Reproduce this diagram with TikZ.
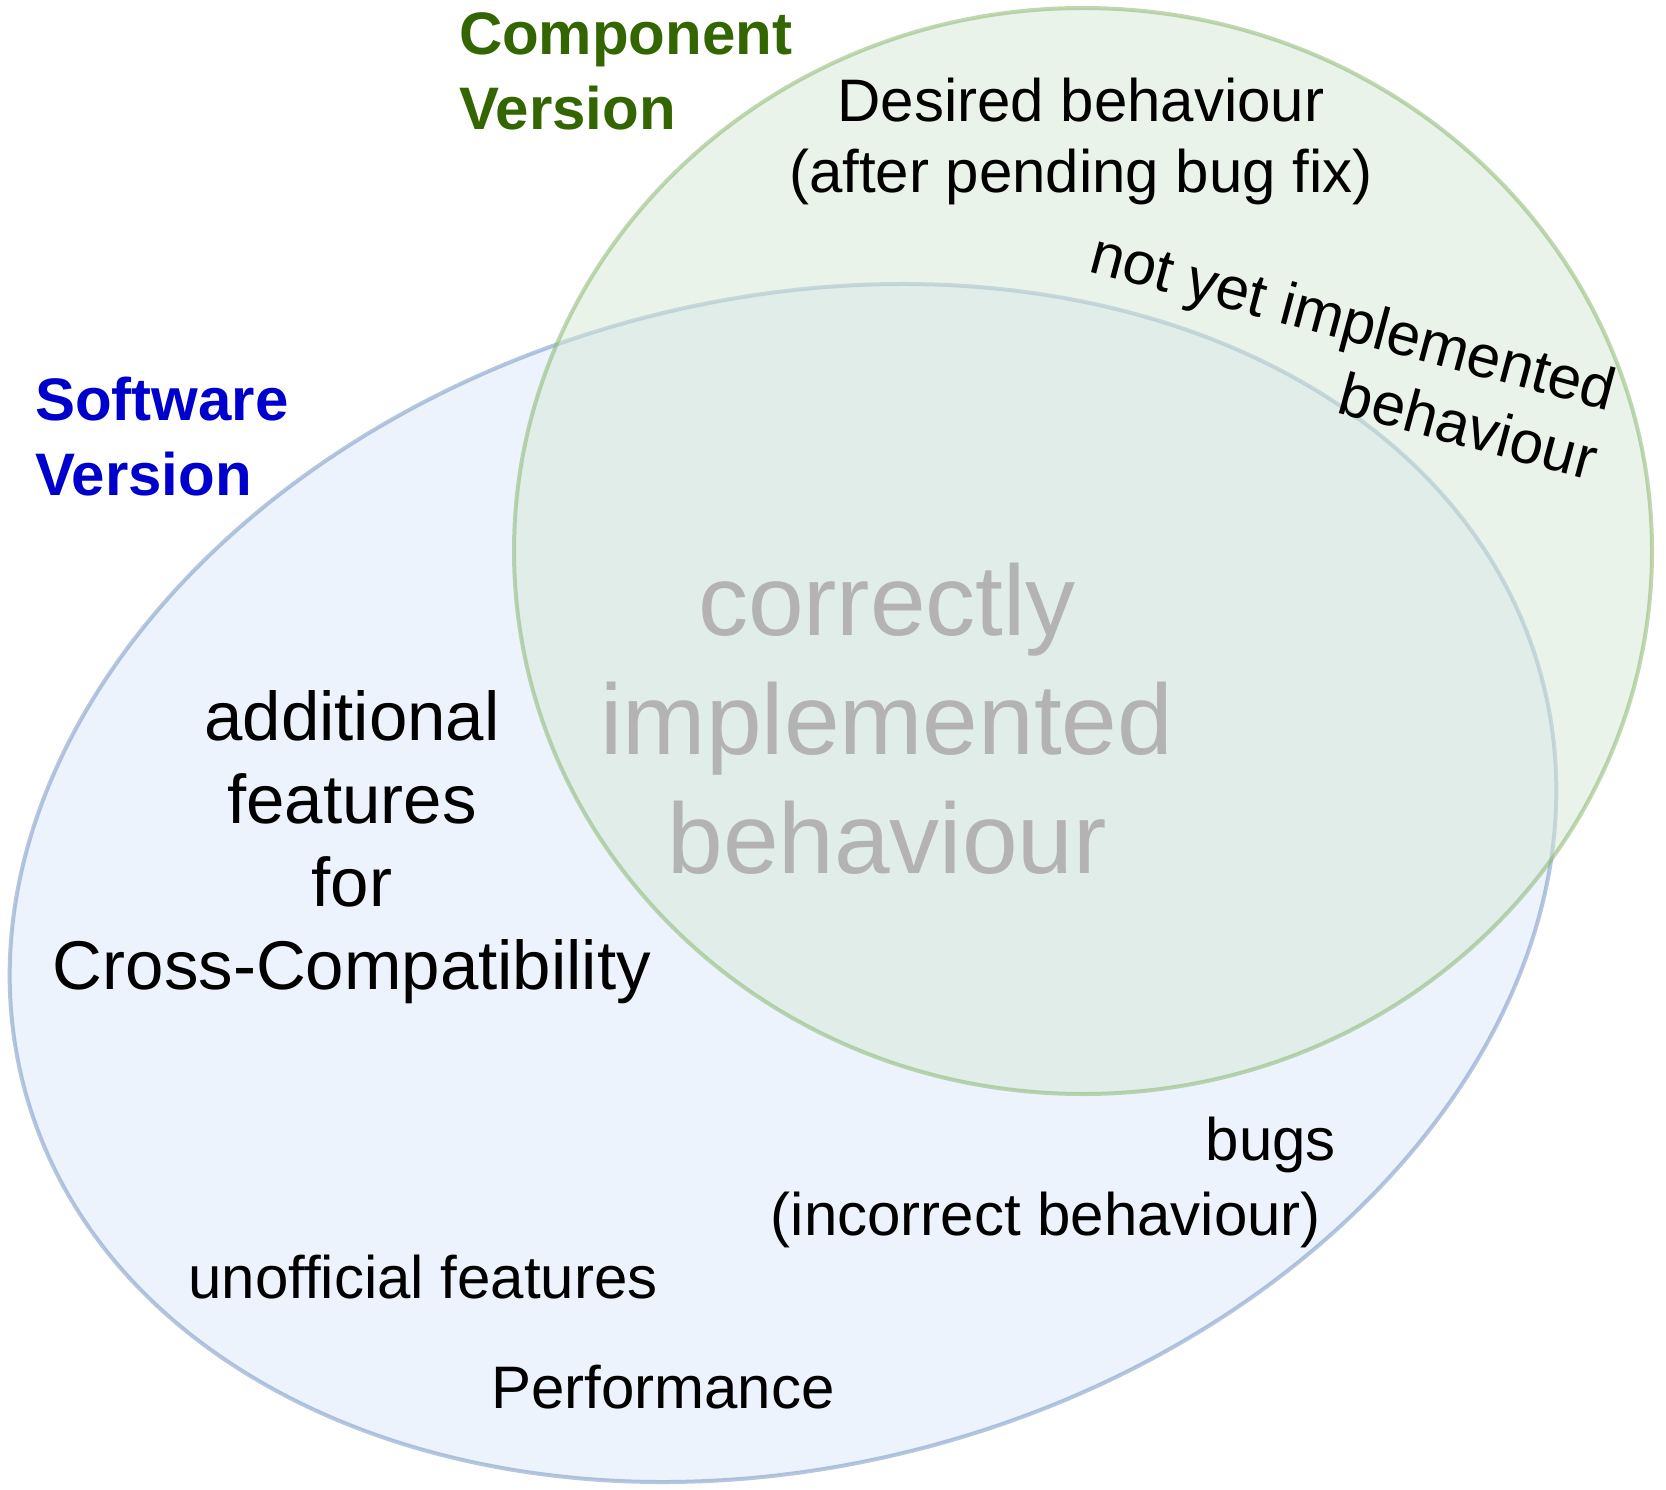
\documentclass[tikz,border=0pt]{standalone}
\usepackage{fontspec}
\setmainfont{Liberation Sans}
\definecolor{bluefill}{HTML}{DAE8FC}
\definecolor{bluedraw}{HTML}{6C8EBF}
\definecolor{greenfill}{HTML}{D5E8D4}
\definecolor{greendraw}{HTML}{82B366}
\definecolor{compgreen}{HTML}{336600}
\definecolor{softblue}{HTML}{0000CC}
\definecolor{midgray}{HTML}{B3B3B3}
\newcommand\fsz[2]{\fontsize{#1bp}{#2bp}\selectfont}
\setlength\tabcolsep{0pt}
\begin{document}
\begin{tikzpicture}[x=1bp,y=1bp,
  txt/.style={inner sep=0pt, outer sep=0pt, text=black},
  setblue/.style={fill=bluefill, draw=bluedraw, line width=4bp, opacity=0.5},
  setgreen/.style={fill=greenfill, draw=greendraw, line width=4bp, opacity=0.5},
  title/.style={txt, anchor=base west, font=\fsz{60}{75}\bfseries}]
\useasboundingbox (0,0) rectangle (1666,-1490);
\fill[white] (0,0) rectangle (1666,-1490);
% sets
\draw[setblue] (783,-883) ellipse [x radius=786, y radius=582, rotate=15.5];
\draw[setgreen] (1083,-551) ellipse [x radius=569, y radius=543];
% titles
\node[title, text=compgreen] (comp) at (459,-55)
  {\begin{tabular}[t]{@{}l@{}}Component\\Version\end{tabular}};
\node[title, text=softblue] (soft) at (35,-420)
  {\begin{tabular}[t]{@{}l@{}}Software\\Version\end{tabular}};
% labels
\node[txt, anchor=base, font=\fsz{60}{71}] (desired) at (1081,-122)
  {\begin{tabular}[t]{@{}c@{}}Desired behaviour\\(after pending bug fix)\end{tabular}};
\node[txt, anchor=base east, rotate=-15, font=\fsz{60}{72}] (notyet) at (1609,-411)
  {\begin{tabular}[t]{@{}r@{}}not yet implemented\\behaviour\end{tabular}};
\node[txt, anchor=base, text=midgray, font=\fsz{100}{119}] (correct) at (887,-635)
  {\begin{tabular}[t]{@{}c@{}}correctly\\implemented\\behaviour\end{tabular}};
\node[txt, anchor=base, font=\fsz{69}{83}] (additional) at (352,-740)
  {\begin{tabular}[t]{@{}c@{}}additional\\features\\for\\Cross-Compatibility\end{tabular}};
\node[txt, anchor=base east, font=\fsz{60}{72}] (bugs) at (1336,-1160) {bugs};
\node[txt, anchor=base east, font=\fsz{60}{72}] (incorrect) at (1321,-1235) {(incorrect behaviour)};
\node[txt, anchor=base, font=\fsz{60}{72}] (unofficial) at (423,-1298) {unofficial features};
\node[txt, anchor=base, font=\fsz{60}{72}] (perf) at (663,-1408) {Performance};
\end{tikzpicture}
\end{document}
